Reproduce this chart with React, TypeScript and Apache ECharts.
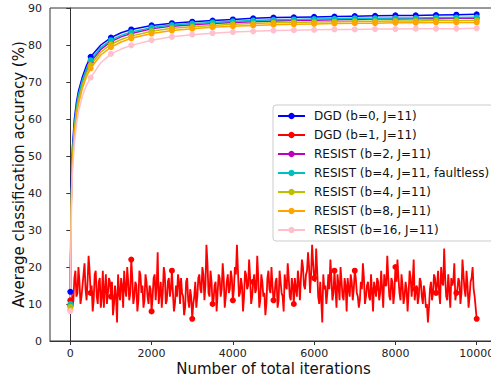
import React, { useEffect, useRef } from "react";
import * as echarts from "echarts";

// Iterations at which the smooth curves are sampled
const ITERS = [0, 10, 25, 50, 100, 150, 200, 300, 400, 500, 750, 1000, 1250, 1500, 2000, 2500, 3000, 3500, 4000, 4500, 5000, 5500, 6000, 6500, 7000, 7500, 8000, 8500, 9000, 9500, 10000];

const DGD_B0 = [13.3, 28, 42, 52, 60, 64.5, 67.5, 71.5, 74.5, 76.8, 80.0, 82.0, 83.3, 84.2, 85.3, 85.9, 86.3, 86.6, 86.9, 87.2, 87.4, 87.5, 87.6, 87.7, 87.8, 87.9, 88.0, 88.0, 88.1, 88.2, 88.3];
const RESIST_B2 = [9.6, 25, 39, 49.5, 58, 62.8, 66, 70.2, 73.2, 75.4, 78.8, 80.9, 82.2, 83.1, 84.4, 85.1, 85.5, 85.8, 86.1, 86.3, 86.5, 86.6, 86.7, 86.8, 86.9, 87.0, 87.0, 87.1, 87.1, 87.2, 87.2];
const RESIST_B4_FAULTLESS = [10.0, 25.5, 39.5, 50, 58.5, 63.2, 66.5, 70.6, 73.6, 75.9, 79.3, 81.3, 82.6, 83.5, 84.7, 85.4, 85.8, 86.1, 86.4, 86.6, 86.8, 86.9, 87.0, 87.1, 87.2, 87.2, 87.3, 87.3, 87.4, 87.4, 87.5];
const RESIST_B4 = [9.2, 24, 38, 48.5, 57, 61.8, 65, 69.3, 72.4, 74.6, 78.1, 80.2, 81.5, 82.4, 83.7, 84.5, 84.9, 85.3, 85.6, 85.8, 86.0, 86.1, 86.2, 86.3, 86.4, 86.4, 86.5, 86.5, 86.6, 86.6, 86.6];
const RESIST_B8 = [8.4, 23, 37, 47.5, 56, 60.8, 64, 68.4, 71.5, 73.7, 77.3, 79.4, 80.8, 81.8, 83.1, 83.9, 84.4, 84.8, 85.1, 85.3, 85.5, 85.6, 85.7, 85.8, 85.9, 85.9, 86.0, 86.0, 86.1, 86.1, 86.1];
const RESIST_B16 = [8.1, 21, 34, 45, 53.5, 58.5, 62, 66.3, 69.2, 71.2, 75.2, 77.6, 78.9, 79.9, 81.3, 82.2, 82.8, 83.2, 83.5, 83.7, 83.9, 84.0, 84.1, 84.2, 84.2, 84.3, 84.3, 84.4, 84.4, 84.4, 84.5];

// DGD (b=1): values at iterations 0, 50, 100, ..., 10000
const RED_STEP = 50;
const DGD_B1 = [
  11,
  9, 17, 12, 20, 10, 15, 21, 11, 23, 13,
  8, 18, 12, 16, 9, 19, 14, 10, 17, 12,
  7, 15, 5, 13, 17, 9, 14, 20, 11, 22,
  10, 16, 8, 19, 13, 9, 18, 12, 15, 8,
  17, 11, 24, 13, 9, 20, 10, 16, 12, 19,
  8, 15, 18, 10, 13, 7, 16, 11, 14, 6,
  12, 9, 17, 14, 20, 11, 26, 13, 19, 10,
  15, 8, 18, 12, 21, 9, 16, 13, 19, 11,
  20, 26, 12, 17, 8, 19, 14, 22, 10, 16,
  13, 23, 9, 18, 12, 7, 17, 14, 20, 11,
  16, 9, 19, 13, 8, 15, 21, 12, 17, 10,
  14, 19, 11, 22, 15, 18, 24, 13, 26, 17,
  25, 12, 16, 5, 14, 10, 18, 22, 11, 19,
  9, 15, 20, 12, 17, 8, 14, 18, 11, 19,
  13, 9, 16, 21, 10, 15, 12, 18, 8, 14,
  17, 11, 19, 9, 15, 23, 12, 17, 10, 20,
  22, 13, 18, 10, 16, 8, 19, 12, 22, 14,
  10, 17, 12, 15, 9, 5, 14, 11, 18, 13,
  19, 10, 16, 25, 12, 18, 9, 15, 21, 13,
  17, 10, 22, 14, 19, 9, 16, 20, 12, 6,
];
// DGD (b=1): values at the in-between iterations 25, 75, ..., 9975
const DGD_B1_MID = [
  14, 11, 19, 13, 16, 12, 18, 14, 16, 19,
  15, 11, 19, 10, 17, 12, 9, 18, 13, 16,
  16, 10, 12, 18, 11, 15, 19, 12, 16, 13,
  17, 12, 15, 11, 18, 15, 11, 16, 10, 14,
  12, 18, 15, 10, 16, 13, 18, 11, 17, 14,
  13, 10, 12, 16, 17, 12, 9, 17, 9, 12,
  10, 16, 12, 18, 13, 18, 15, 21, 12, 16,
  11, 16, 13, 17, 14, 17, 12, 18, 14, 17,
  14, 18, 19, 13, 15, 12, 18, 15, 17, 12,
  18, 14, 17, 11, 16, 13, 10, 19, 13, 15,
  12, 17, 11, 16, 12, 18, 14, 17, 11, 15,
  17, 12, 16, 17, 20, 14, 19, 20, 18, 21,
  16, 19, 10, 11, 18, 15, 13, 14, 17, 13,
  14, 18, 11, 16, 11, 15, 17, 12, 16, 14,
  17, 12, 11, 14, 17, 12, 16, 11, 13, 16,
  12, 16, 13, 14, 18, 15, 17, 11, 16, 13,
  16, 17, 11, 15, 12, 14, 13, 17, 16, 11,
  15, 12, 16, 10, 13, 10, 9, 16, 13, 17,
  15, 13, 20, 15, 17, 11, 14, 17, 16, 11,
  14, 16, 13, 18, 12, 15, 12, 17, 14, 9,
];

const X_TICKS = [0, 2000, 4000, 6000, 8000, 10000];
const MARK_EVERY = 500;

const SERIES_DEF = [
  { name: "DGD (b=0, J=11)", color: "#0000ff", kind: "smooth", values: DGD_B0 },
  { name: "DGD (b=1, J=11)", color: "#ff0000", kind: "noise", values: DGD_B1 },
  { name: "RESIST (b=2, J=11)", color: "#bf00bf", kind: "smooth", values: RESIST_B2 },
  { name: "RESIST (b=4, J=11, faultless)", color: "#00bfbf", kind: "smooth", values: RESIST_B4_FAULTLESS },
  { name: "RESIST (b=4, J=11)", color: "#bfbf00", kind: "smooth", values: RESIST_B4 },
  { name: "RESIST (b=8, J=11)", color: "#ffa500", kind: "smooth", values: RESIST_B8 },
  { name: "RESIST (b=16, J=11)", color: "#ffc0cb", kind: "smooth", values: RESIST_B16 },
];

function buildPairs(def: any): [number, number][] {
  if (def.kind !== "noise") return def.values.map((v: number, i: number) => [ITERS[i], v]);
  const out: [number, number][] = [];
  def.values.forEach((v: number, i: number) => {
    out.push([i * RED_STEP, v]);
    if (i < DGD_B1_MID.length) out.push([i * RED_STEP + RED_STEP / 2, DGD_B1_MID[i]]);
  });
  return out;
}

function buildData(def: any) {
  return buildPairs(def).map(([x, v]) => {
    const item: any = { value: [x, v] };
    if (x % MARK_EVERY !== 0) item.symbol = "none";
    return item;
  });
}

export default function App() {
  const ref = useRef<HTMLDivElement>(null);
  useEffect(() => {
    if (!ref.current) return;
    const chart = echarts.init(ref.current, null, { renderer: "svg" });
    const font = "DejaVu Sans";
    chart.setOption({
      animation: false,
      backgroundColor: "#ffffff",
      grid: {
        left: 50, top: 8, right: 13, bottom: 38,
        show: true, borderColor: "#333", borderWidth: 1,
        containLabel: false, outerBoundsMode: "none",
      },
      xAxis: {
        type: "value",
        min: -500,
        max: 10500,
        name: "Number of total iterations",
        nameLocation: "middle",
        nameGap: 20,
        nameMoveOverlap: false,
        nameTextStyle: { fontFamily: font, fontSize: 15, color: "#111" },
        axisLine: { show: true, lineStyle: { color: "#333", width: 1 } },
        axisTick: { show: true, length: 4, lineStyle: { color: "#333" }, customValues: X_TICKS },
        axisLabel: {
          fontFamily: font, fontSize: 11, color: "#222", margin: 7, customValues: X_TICKS,
          formatter: (v: number) => String(v),
        },
        splitLine: { show: false },
      },
      yAxis: {
        type: "value",
        min: 0,
        max: 90,
        interval: 10,
        name: "Average classification accuracy (%)",
        nameLocation: "middle",
        nameGap: 24,
        nameMoveOverlap: false,
        nameTextStyle: { fontFamily: font, fontSize: 15, color: "#111" },
        axisLine: { show: true, lineStyle: { color: "#333", width: 1 } },
        axisTick: { show: true, length: 4, lineStyle: { color: "#333" } },
        axisLabel: { fontFamily: font, fontSize: 11, color: "#222", margin: 8 },
        splitLine: { show: false },
      },
      legend: {
        orient: "vertical",
        left: 273,
        top: 105,
        padding: [4, 4, 4, 4],
        itemGap: 5,
        itemWidth: 27,
        itemHeight: 8,
        backgroundColor: "rgba(255,255,255,0.8)",
        borderColor: "#cccccc",
        borderWidth: 1,
        borderRadius: 3,
        textStyle: { fontFamily: font, fontSize: 12, color: "#111", lineHeight: 14, padding: [0, 0, 0, 4] },
        data: SERIES_DEF.map((d) => d.name),
      },
      series: SERIES_DEF.map((d) => ({
        name: d.name,
        type: "line",
        data: buildData(d),
        color: d.color,
        symbol: "circle",
        symbolSize: 6,
        showSymbol: true,
        lineStyle: { width: d.kind === "noise" ? 1.8 : 1.5, color: d.color },
        itemStyle: { color: d.color },
        emphasis: { disabled: true },
      })),
    });
    return () => chart.dispose();
  }, []);
  return (
    <div style={{ position: "fixed", left: 0, top: 0, width: 491, height: 379, overflow: "hidden", background: "#fff" }}>
      <div ref={ref} style={{ width: 510, height: 379 }} />
    </div>
  );
}
